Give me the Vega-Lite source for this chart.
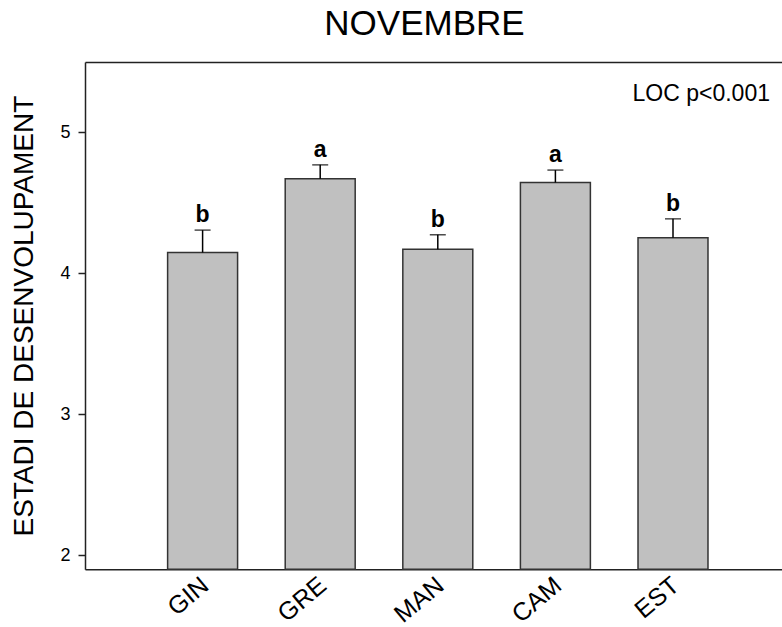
{
  "$schema": "https://vega.github.io/schema/vega-lite/v6.json",
  "autosize": "none",
  "width": 697,
  "height": 507.3,
  "padding": {"left": 85, "top": 62, "right": 0, "bottom": 57.7},
  "background": "white",
  "config": {"view": {"stroke": null}, "font": "Liberation Sans"},
  "title": {"text": "NOVEMBRE", "fontSize": 35, "fontWeight": "normal", "color": "#000", "font": "Liberation Sans", "baseline": "alphabetic", "offset": 26, "dy": 34, "dx": -9},
  "data": {"values": [
    {"site": "GIN", "mean": 4.148, "upper": 4.307, "letter": "b"},
    {"site": "GRE", "mean": 4.671, "upper": 4.770, "letter": "a"},
    {"site": "MAN", "mean": 4.172, "upper": 4.274, "letter": "b"},
    {"site": "CAM", "mean": 4.645, "upper": 4.733, "letter": "a"},
    {"site": "EST", "mean": 4.252, "upper": 4.387, "letter": "b"}
  ]},
  "resolve": {"axis": {"x": "independent"}},
  "layer": [
    {
      "mark": {"type": "bar", "fill": "#c0c0c0", "stroke": "#333", "strokeWidth": 1.5},
      "encoding": {
        "x": {"field": "site", "type": "nominal", "sort": null,
          "scale": {"range": [0, 705.6], "paddingInner": 0.405, "paddingOuter": 0.7025},
          "axis": {"title": null, "ticks": false, "labelAngle": -40, "labelAlign": "right", "labelBaseline": "top", "labelFontSize": 25, "labelColor": "#000", "labelPadding": 3, "labelDx": -3, "labelOffset": -5, "domainColor": "#222", "domainWidth": 1.5}},
        "y": {"field": "mean", "type": "quantitative",
          "scale": {"domain": [1.9, 5.5], "nice": false, "zero": false},
          "axis": {"values": [2, 3, 4, 5], "format": "d", "grid": false, "tickSize": 7, "tickColor": "#222", "tickWidth": 1.5, "labelFontSize": 18, "labelColor": "#000", "labelPadding": 8, "domainColor": "#222", "domainWidth": 1.5,
            "title": "ESTADI DE DESENVOLUPAMENT", "titleFontSize": 28, "titleFontWeight": "normal", "titleColor": "#000", "titleX": -53, "titleY": 253.6, "titleBaseline": "alphabetic"}},
        "y2": {"datum": 1.9}
      }
    },
    {
      "mark": {"type": "rule", "color": "#000", "strokeWidth": 1.5},
      "encoding": {
        "x": {"field": "site", "type": "nominal", "sort": null,
          "axis": {"orient": "top", "title": null, "labels": false, "ticks": false, "domainColor": "#222", "domainWidth": 1.5}},
        "y": {"field": "mean", "type": "quantitative"},
        "y2": {"field": "upper"}
      }
    },
    {
      "mark": {"type": "tick", "color": "#000", "size": 16, "thickness": 1.5, "orient": "horizontal"},
      "encoding": {
        "x": {"field": "site", "type": "nominal", "sort": null, "axis": null},
        "y": {"field": "upper", "type": "quantitative"}
      }
    },
    {
      "mark": {"type": "text", "fontSize": 23, "fontWeight": "bold", "color": "#000", "baseline": "alphabetic", "dy": -8},
      "encoding": {
        "x": {"field": "site", "type": "nominal", "sort": null, "axis": null},
        "y": {"field": "upper", "type": "quantitative"},
        "text": {"field": "letter"}
      }
    },
    {
      "data": {"values": [{"note": "LOC p<0.001"}]},
      "mark": {"type": "text", "fontSize": 23, "color": "#000", "align": "right", "baseline": "alphabetic", "dx": 97},
      "encoding": {
        "x": {"datum": "EST", "type": "nominal", "axis": null},
        "y": {"datum": 5.225, "type": "quantitative"},
        "text": {"field": "note"}
      }
    }
  ]
}
